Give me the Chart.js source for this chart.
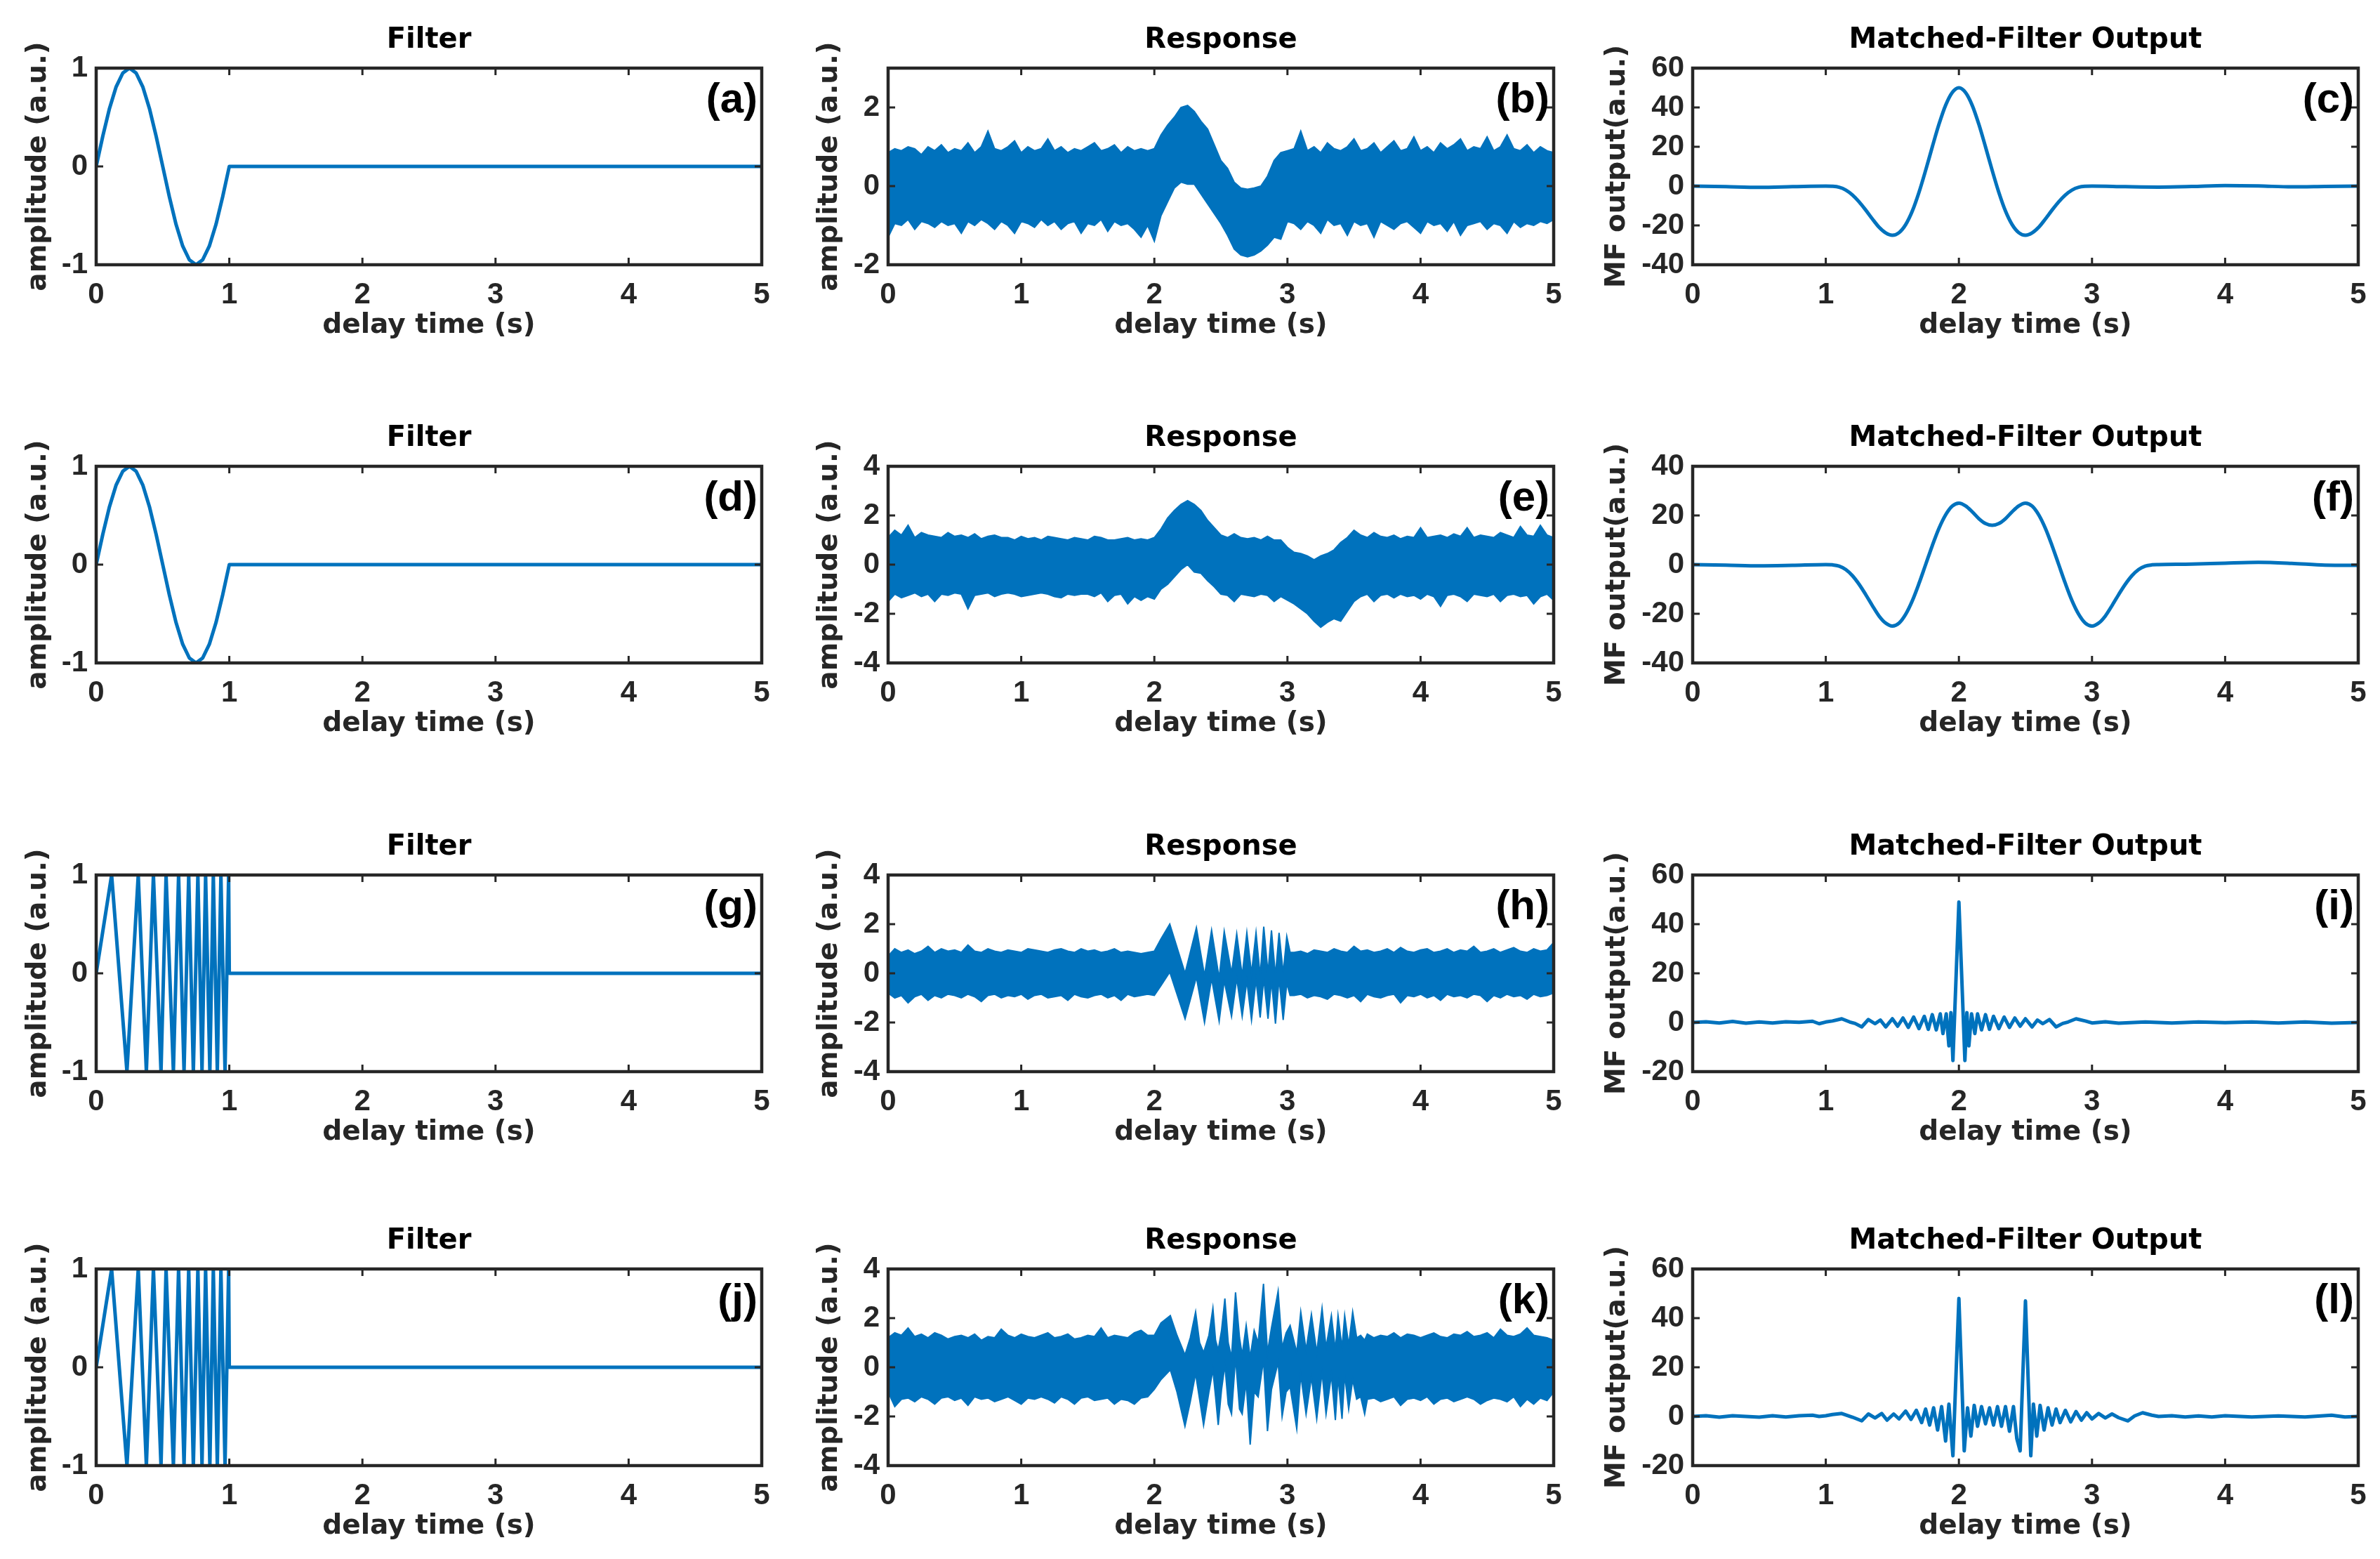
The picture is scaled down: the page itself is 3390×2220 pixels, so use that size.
<!DOCTYPE html>
<html>
<head>
<meta charset="utf-8">
<script src="https://cdn.jsdelivr.net/npm/chart.js@4.4.1/dist/chart.umd.min.js"></script>
<style>
  body { margin: 0; background: #fff; width: 3390px; height: 2220px; position: relative; overflow: hidden; }
  canvas { position: absolute; }
</style>
</head>
<body>
<script>
// ---- axis ticks ----
const xTicks = [0, 1, 2, 3, 4, 5];
const yTicksFilter = [-1, 0, 1];
const yTicksResp1 = [-2, 0, 2];
const yTicksResp = [-4, -2, 0, 2, 4];
const yTicksMF1 = [-40, -20, 0, 20, 40, 60];
const yTicksMF2 = [-40, -20, 0, 20, 40];
const yTicksMF3 = [-20, 0, 20, 40, 60];

// common time grid for the noisy responses
const gridT = [0,0.05,0.1,0.15,0.2,0.25,0.3,0.35,0.4,0.45,
  0.5,0.55,0.6,0.65,0.7,0.75,0.8,0.85,0.9,0.95,
  1,1.05,1.1,1.15,1.2,1.25,1.3,1.35,1.4,1.45,
  1.5,1.55,1.6,1.65,1.7,1.75,1.8,1.85,1.9,1.95,
  2,2.05,2.1,2.15,2.2,2.25,2.3,2.35,2.4,2.45,
  2.5,2.55,2.6,2.65,2.7,2.75,2.8,2.85,2.9,2.95,
  3,3.05,3.1,3.15,3.2,3.25,3.3,3.35,3.4,3.45,
  3.5,3.55,3.6,3.65,3.7,3.75,3.8,3.85,3.9,3.95,
  4,4.05,4.1,4.15,4.2,4.25,4.3,4.35,4.4,4.45,
  4.5,4.55,4.6,4.65,4.7,4.75,4.8,4.85,4.9,4.95,5];

// ---- filter: single sine period ----
const sineT = [0,0.05,0.1,0.15,0.2,0.25,0.3,0.35,0.4,0.45,0.5,0.55,0.6,0.65,0.7,0.75,0.8,0.85,0.9,0.95,1,5];
const sineV = [0,0.31,0.59,0.81,0.95,1,0.95,0.81,0.59,0.31,0,-0.31,-0.59,-0.81,-0.95,-1,-0.95,-0.81,-0.59,-0.31,0,0];

// ---- filter: chirp (extrema) ----
const chirpT = [0,0.116,0.231,0.316,0.377,0.43,0.487,0.525,0.58,0.619,0.66,0.695,0.73,0.764,0.795,0.822,0.854,0.88,0.91,0.937,0.968,0.995,1,5];
const chirpV = [0,1,-1,1,-1,1,-1,1,-1,1,-1,1,-1,1,-1,1,-1,1,-1,1,-1,1,0,0];

// ---- response (b): upper / lower envelope of the noisy trace ----
const bUpper = [0.85,0.95,0.9,1.0,0.95,0.8,1.0,0.9,1.05,0.85,0.95,0.9,1.1,0.85,1.0,1.4,0.95,0.9,1.0,1.15,
  0.85,1.0,0.9,0.95,1.2,0.9,1.0,0.85,0.95,0.9,1.0,1.1,0.9,0.95,1.05,0.85,1.0,0.9,0.95,0.9,
  0.95,1.3,1.55,1.75,2.0,2.05,1.9,1.65,1.45,1.05,0.65,0.45,0.1,-0.05,-0.08,-0.05,0.0,0.25,0.65,0.85,0.9,
  0.95,1.4,0.9,1.0,0.85,1.1,0.95,0.9,1.0,1.2,0.9,0.95,1.1,0.85,1.0,1.15,0.9,0.95,1.25,0.9,
  1.0,0.85,1.1,0.95,1.05,1.2,0.9,1.0,0.95,1.25,0.9,1.0,1.3,0.95,0.9,1.05,0.85,1.0,0.9,0.85];
const bLower = [-1.3,-0.95,-1.0,-0.85,-1.1,-0.9,-0.95,-1.05,-0.9,-1.0,-0.95,-1.2,-0.9,-1.0,-0.85,-0.95,-1.1,-0.9,-1.0,-1.2,
  -0.9,-0.95,-1.05,-0.85,-1.0,-0.9,-1.1,-0.95,-0.9,-1.2,-0.95,-1.0,-0.85,-1.15,-0.9,-1.0,-0.95,-1.1,-1.3,-1.0,
  -1.4,-0.75,-0.4,-0.05,0.1,0.05,0.05,-0.2,-0.45,-0.7,-0.95,-1.25,-1.6,-1.75,-1.8,-1.75,-1.65,-1.5,-1.3,-1.35,-0.9,
  -0.95,-1.1,-0.9,-1.0,-1.2,-0.85,-1.0,-0.95,-1.25,-0.9,-1.0,-0.95,-1.3,-0.9,-1.0,-1.1,-0.95,-0.9,-1.05,-1.2,
  -0.9,-1.0,-0.95,-1.15,-0.9,-1.25,-1.0,-0.95,-0.9,-1.1,-0.95,-1.0,-1.2,-0.9,-1.05,-0.95,-1.0,-0.9,-0.95,-0.85];

// ---- response (e) ----
const eUpper = [1.1,1.4,1.2,1.6,1.1,1.3,1.2,1.15,1.1,1.3,1.15,1.2,1.1,1.25,1.05,1.15,1.2,1.1,1.1,1.0,
  1.15,1.05,1.1,1.0,1.15,1.1,1.05,1.0,1.1,1.05,1.0,1.15,1.1,1.0,1.0,1.05,1.1,1.0,1.05,1.0,
  1.1,1.45,1.9,2.2,2.45,2.6,2.45,2.2,1.8,1.5,1.2,1.1,1.25,1.1,1.05,1.1,1.0,1.15,1.0,1.0,
  0.7,0.5,0.45,0.35,0.2,0.35,0.45,0.6,0.9,1.1,1.4,
  1.2,1.1,1.3,1.15,1.1,1.2,1.05,1.15,1.1,1.5,1.1,1.15,1.2,1.1,1.25,1.15,1.5,1.1,1.2,1.15,
  1.1,1.3,1.2,1.1,1.55,1.2,1.15,1.6,1.2,1.1];
const eLower = [-1.5,-1.2,-1.35,-1.25,-1.15,-1.3,-1.2,-1.5,-1.2,-1.25,-1.15,-1.2,-1.8,-1.25,-1.2,-1.15,-1.3,-1.2,-1.15,-1.2,
  -1.3,-1.25,-1.2,-1.15,-1.2,-1.3,-1.35,-1.2,-1.25,-1.2,-1.2,-1.3,-1.15,-1.5,-1.25,-1.2,-1.6,-1.3,-1.45,-1.3,
  -1.4,-1.0,-0.8,-0.5,-0.2,0.0,-0.3,-0.35,-0.65,-0.9,-1.2,-1.25,-1.5,-1.2,-1.25,-1.3,-1.2,-1.25,-1.5,-1.3,
  -1.45,-1.6,-1.8,-2.0,-2.3,-2.55,-2.35,-2.2,-2.3,-1.9,-1.5,
  -1.3,-1.2,-1.5,-1.25,-1.2,-1.35,-1.2,-1.3,-1.25,-1.4,-1.2,-1.3,-1.7,-1.25,-1.2,-1.3,-1.5,-1.2,-1.25,-1.3,
  -1.2,-1.5,-1.25,-1.2,-1.3,-1.25,-1.6,-1.3,-1.2,-1.45];

// ---- response (h): noise before 2 s, chirp extrema, noise after 3 s ----
const hNoiseUpA = [0.7,1.0,0.85,0.95,0.8,0.9,1.1,0.85,1.0,0.9,0.95,0.85,1.15,0.9,0.85,1.0,0.9,0.85,0.95,0.9,
  0.85,1.0,0.95,0.9,0.85,0.95,1.0,0.9,0.85,1.0,0.9,0.95,0.85,0.9,1.0,0.85,0.9,0.85,0.8,0.85];
const hNoiseLoA = [-0.8,-1.0,-0.9,-1.2,-0.95,-0.85,-1.1,-0.9,-1.0,-0.85,-0.9,-1.0,-0.85,-0.95,-1.15,-0.9,-0.85,-1.0,-0.9,-0.95,
  -0.85,-1.05,-0.9,-0.85,-1.0,-0.95,-0.9,-1.1,-0.85,-0.95,-1.0,-0.9,-0.85,-1.0,-0.9,-1.1,-0.85,-0.95,-0.9,-0.85];
const hChirpT = [2,2.05,2.116,2.231,2.316,2.377,2.43,2.487,2.525,2.58,2.619,2.66,2.695,2.73,2.764,2.795,2.822,2.854,2.88,2.91,2.937,2.968,2.995,3.02];
const hChirpUp = [0.9,1.4,2.0,0.0,1.85,-0.1,1.75,-0.2,1.7,0.0,1.6,-0.1,1.65,0.0,1.65,-0.1,1.9,0.0,1.75,-0.1,1.65,0.0,1.5,0.85];
const hChirpLo = [-0.9,-0.5,0.05,-1.85,-0.15,-2.0,-0.2,-1.95,-0.3,-1.75,-0.2,-1.75,-0.3,-1.9,-0.25,-1.8,-0.2,-1.85,-0.3,-2.05,-0.2,-1.9,-0.4,-0.9];
const hNoiseUpB = [0.85,0.9,0.8,0.95,0.9,0.85,1.0,0.9,0.85,1.1,0.9,0.95,0.85,0.9,1.0,0.85,1.05,0.9,0.85,0.95,
  1.0,0.85,0.9,1.0,0.85,0.95,0.9,1.1,0.85,0.9,1.0,0.85,0.95,1.05,0.9,0.85,1.0,0.9,0.95,1.25];
const hNoiseLoB = [-0.9,-0.85,-1.0,-0.9,-0.95,-1.05,-0.85,-0.9,-1.0,-0.9,-1.15,-0.85,-0.95,-1.0,-0.9,-0.85,-1.2,-0.9,-0.95,-0.85,
  -1.0,-0.9,-1.1,-0.85,-0.95,-0.9,-1.0,-0.85,-0.9,-1.15,-0.9,-1.0,-0.85,-0.95,-0.9,-1.05,-0.85,-0.95,-0.9,-0.8];

// ---- response (k): two overlapping chirps ----
const kNoiseUpA = [1.2,1.4,1.3,1.6,1.25,1.35,1.2,1.4,1.3,1.15,1.25,1.3,1.2,1.35,1.1,1.25,1.2,1.55,1.3,1.2,
  1.35,1.25,1.2,1.3,1.4,1.2,1.25,1.35,1.15,1.2,1.3,1.25,1.6,1.2,1.3,1.25,1.2,1.4,1.5,1.3];
const kNoiseLoA = [-1.0,-1.6,-1.3,-1.25,-1.4,-1.2,-1.3,-1.5,-1.25,-1.2,-1.35,-1.25,-1.55,-1.2,-1.3,-1.25,-1.4,-1.3,-1.2,-1.35,
  -1.5,-1.25,-1.3,-1.2,-1.3,-1.45,-1.2,-1.3,-1.5,-1.25,-1.2,-1.35,-1.3,-1.25,-1.5,-1.3,-1.35,-1.5,-1.25,-1.2];
const kChirpT = [2,2.05,2.12,2.17,2.23,2.27,2.31,2.34,2.37,2.41,2.44,2.46,2.48,2.505,2.53,2.555,2.58,2.61,2.64,2.66,
  2.69,2.72,2.75,2.78,2.82,2.85,2.88,2.93,2.96,2.99,3.02,3.07,3.1,3.14,3.18,3.22,3.26,3.29,3.33,3.36,
  3.38,3.41,3.43,3.46,3.49,3.52,3.55,3.58];
const kChirpUp = [1.3,1.8,2.1,1.3,0.5,1.2,2.25,1.0,0.6,1.3,2.4,1.1,0.7,1.5,2.8,1.0,0.4,3.05,1.2,0.5,
  1.7,0.4,1.5,1.0,3.4,0.6,1.6,3.1,0.8,1.4,1.7,0.6,2.25,0.7,2.15,0.6,2.4,0.8,2.1,0.7,
  2.1,0.8,2.1,0.9,2.25,1.2,1.3,1.1];
const kChirpLo = [-0.9,-0.5,-0.1,-1.0,-2.4,-1.4,-0.25,-1.3,-2.35,-1.0,-0.1,-1.2,-2.35,-0.9,0.1,-1.5,-1.9,0.4,-1.7,-1.9,
  -0.6,-3.15,-1.0,-1.2,0.3,-2.6,-0.9,0.2,-2.0,-1.0,-0.8,-2.5,-0.3,-1.9,-0.4,-2.1,-0.2,-1.9,-0.3,-2.15,
  -0.4,-2.1,-0.3,-1.7,-0.5,-1.3,-1.2,-1.9];
const kNoiseUpB = [1.35,1.2,1.3,1.25,1.4,1.2,1.35,1.3,1.2,1.3,1.4,1.25,1.2,1.35,1.3,1.45,1.25,1.3,1.4,1.2,
  1.55,1.3,1.25,1.35,1.6,1.3,1.25,1.2,1.1];
const kNoiseLoB = [-1.3,-1.25,-1.4,-1.3,-1.2,-1.55,-1.3,-1.25,-1.35,-1.2,-1.5,-1.3,-1.25,-1.4,-1.3,-1.2,-1.3,-1.5,-1.35,-1.25,
  -1.3,-1.4,-1.2,-1.6,-1.3,-1.5,-1.25,-1.35,-1.0];

// ---- matched-filter outputs ----
const cT = [0,0.25,0.5,0.75,1,1.05,1.1,1.15,1.2,1.25,1.3,1.35,1.4,1.45,1.5,1.55,1.6,1.65,1.7,1.75,1.8,1.85,1.9,1.95,
  2,2.05,2.1,2.15,2.2,2.25,2.3,2.35,2.4,2.45,2.5,2.55,2.6,2.65,2.7,2.75,2.8,2.85,2.9,2.95,3,
  3.25,3.5,3.75,4,4.25,4.5,4.75,5];
const cV = [0,-0.3,-0.6,-0.3,0,-0.1,-0.6,-2.0,-4.5,-8.0,-12.2,-16.7,-20.9,-23.8,-25,-23.7,-19.6,-12.7,-3.2,8.0,19.9,31.4,41.1,47.6,
  50,47.6,41.1,31.4,19.9,8.0,-3.2,-12.7,-19.6,-23.7,-25,-23.8,-20.9,-16.7,-12.2,-8.0,-4.5,-2.0,-0.6,-0.1,0,
  -0.3,-0.5,-0.2,0.3,0.1,-0.4,-0.2,0];

const fT = [0,0.25,0.5,0.75,1,1.05,1.1,1.15,1.2,1.25,1.3,1.35,1.4,1.45,1.5,1.55,1.6,1.65,1.7,1.75,1.8,1.85,1.9,1.95,
  2,2.05,2.1,2.15,2.2,2.25,2.3,2.35,2.4,2.45,2.5,2.55,2.6,2.65,2.7,2.75,2.8,2.85,2.9,2.95,
  3,3.05,3.1,3.15,3.2,3.25,3.3,3.35,3.4,3.45,3.5,3.75,4,4.25,4.5,4.75,5];
const fV = [0,-0.2,-0.5,-0.3,0,-0.1,-0.6,-2.0,-4.5,-8.0,-12.2,-16.7,-20.9,-23.8,-25,-23.8,-20.2,-14.7,-7.7,0,7.7,14.7,20.2,23.8,
  25,23.9,21.5,18.7,16.7,16,16.7,18.7,21.5,23.9,25,23.8,20.2,14.7,7.7,0,-7.7,-14.7,-20.2,-23.8,
  -25,-23.8,-20.9,-16.7,-12.2,-8.0,-4.5,-2.0,-0.6,-0.1,0,0.2,0.6,0.9,0.5,-0.2,-0.3];

const iT = [0,0.1,0.2,0.3,0.4,0.5,0.6,0.7,0.8,0.9,0.95,1,1.05,1.12,1.18,1.22,1.27,1.32,1.37,1.41,1.45,1.5,1.54,1.58,1.62,1.66,1.7,1.74,1.77,1.8,1.83,1.86,1.88,1.905,1.925,1.94,1.955,
  2,2.045,2.06,2.075,2.095,2.12,2.14,2.17,2.2,2.23,2.26,2.3,2.34,2.38,2.42,2.46,2.5,2.55,2.59,2.63,2.68,2.73,2.78,2.82,2.88,2.95,
  3,3.1,3.2,3.4,3.6,3.8,4,4.2,4.4,4.6,4.8,5];
const iV = [0,0.3,-0.2,0.4,-0.3,0.2,-0.2,0.3,0.1,0.5,-0.5,0.2,0.6,1.5,0.2,-0.4,-1.8,1.2,-0.5,1.0,-1.8,1.5,-1.5,1.8,-2.0,2.2,-2.5,2.5,-2.8,3.2,-3.0,3.5,-4.5,3.5,-9.5,4.0,-15.5,
  49,-15.5,4.0,-9.5,3.5,-4.5,3.5,-3.0,3.2,-2.8,2.5,-2.5,2.2,-2.0,1.8,-1.5,1.5,-1.8,1.0,-0.5,1.2,-1.8,-0.4,0.2,1.5,0.6,
  -0.2,0.3,-0.3,0.2,-0.2,0.2,-0.1,0.2,-0.2,0.2,-0.3,0];

const lT = [0,0.1,0.2,0.3,0.4,0.5,0.6,0.7,0.8,0.9,0.95,1,1.05,1.12,1.2,1.27,1.32,1.37,1.42,1.46,1.51,1.55,1.6,1.64,1.68,1.72,1.75,1.78,1.81,1.84,1.87,1.9,1.925,1.955,
  2,2.04,2.065,2.09,2.115,2.14,2.17,2.2,2.23,2.26,2.29,2.32,2.35,2.38,2.41,2.435,2.46,
  2.5,2.54,2.56,2.585,2.61,2.64,2.67,2.7,2.73,2.76,2.8,2.84,2.88,2.92,2.96,3,3.05,3.1,3.15,3.2,3.27,3.32,3.38,3.45,
  3.5,3.6,3.7,3.8,3.9,4,4.2,4.4,4.6,4.8,4.9,5];
const lV = [0,0.3,-0.3,0.3,0,-0.3,0.3,-0.2,0.3,0.5,0,0.3,0.8,1.2,-0.3,-1.8,1.0,-0.6,1.2,-1.5,1.0,-1.0,2.2,-1.2,2.5,-2.5,3.0,-3.5,3.5,-5.5,4.0,-10,5,-16,
  48,-14,3.5,-8,4.5,-4,4,-3,3.5,-3.5,4.0,-4,4,-6,4,-9,-14,
  47,-16,5,-8,4.5,-5.5,3.5,-3.5,3.0,-2.5,2.5,-2.2,2.0,-1.5,1.5,-1.0,1.2,-0.6,1.0,-0.5,-1.8,0.2,1.5,0.5,
  0,0.3,-0.2,0.2,-0.2,0.3,-0.2,0.2,-0.2,0.5,-0.2,0];

// ---- drawing ----
const BLUE = '#0072BD';
const TXT = '#262626';
Chart.defaults.font.family = '"Liberation Sans", Arial, sans-serif';

function pts(t, v) { return t.map((x, i) => ({ x: x, y: v[i] })); }
function lineSet(t, v, smooth) {
  return { data: pts(t, v), borderColor: BLUE, borderWidth: 5, pointRadius: 0, fill: false,
    cubicInterpolationMode: smooth ? 'monotone' : 'default', borderJoinStyle: 'round', borderCapStyle: 'round' };
}
function bandSets(t, up, lo) {
  return [
    { data: pts(t, up), borderColor: BLUE, borderWidth: 2, pointRadius: 0, fill: false },
    { data: pts(t, lo), borderColor: BLUE, borderWidth: 2, pointRadius: 0, fill: '-1', backgroundColor: BLUE }
  ];
}

const hT = gridT.slice(0, 40).concat(hChirpT, gridT.slice(61));
const kT = gridT.slice(0, 40).concat(kChirpT, gridT.slice(72));

// box, inward tick marks and panel letter
const panelMarks = {
  id: 'panelMarks',
  afterDatasetsDraw(chart, args, opts) {
    const ctx = chart.ctx, a = chart.chartArea;
    const sx = chart.scales.x, sy = chart.scales.y;
    ctx.save();
    ctx.strokeStyle = TXT;
    ctx.lineWidth = 3;
    ctx.beginPath();
    sx.ticks.forEach(t => {
      const p = sx.getPixelForValue(t.value);
      ctx.moveTo(p, a.bottom); ctx.lineTo(p, a.bottom - 10);
      ctx.moveTo(p, a.top); ctx.lineTo(p, a.top + 10);
    });
    sy.ticks.forEach(t => {
      const p = sy.getPixelForValue(t.value);
      ctx.moveTo(a.left, p); ctx.lineTo(a.left + 10, p);
      ctx.moveTo(a.right, p); ctx.lineTo(a.right - 10, p);
    });
    ctx.stroke();
    ctx.lineWidth = 4.5;
    ctx.strokeRect(a.left, a.top, a.right - a.left, a.bottom - a.top);
    ctx.fillStyle = '#000';
    ctx.font = 'bold 60px "Liberation Sans", Arial, sans-serif';
    ctx.textAlign = 'right';
    ctx.textBaseline = 'middle';
    ctx.fillText(opts.text, a.right - 6, a.top + 46);
    ctx.restore();
  }
};

const colLeft = [137, 1265, 2411];
const rowTop = [97, 664, 1246, 1807];
const yTitlePad = [31, 30, 6];

const panels = [
  { r: 0, c: 0, title: 'Filter', yTitle: 'amplitude (a.u.)', tag: '(a)', yMin: -1, yMax: 1, yTicks: yTicksFilter, sets: [lineSet(sineT, sineV, false)] },
  { r: 0, c: 1, title: 'Response', yTitle: 'amplitude (a.u.)', tag: '(b)', yMin: -2, yMax: 3, yTicks: yTicksResp1, sets: bandSets(gridT, bUpper, bLower) },
  { r: 0, c: 2, title: 'Matched-Filter Output', yTitle: 'MF output(a.u.)', tag: '(c)', yMin: -40, yMax: 60, yTicks: yTicksMF1, sets: [lineSet(cT, cV, true)] },
  { r: 1, c: 0, title: 'Filter', yTitle: 'amplitude (a.u.)', tag: '(d)', yMin: -1, yMax: 1, yTicks: yTicksFilter, sets: [lineSet(sineT, sineV, false)] },
  { r: 1, c: 1, title: 'Response', yTitle: 'amplitude (a.u.)', tag: '(e)', yMin: -4, yMax: 4, yTicks: yTicksResp, sets: bandSets(gridT, eUpper, eLower) },
  { r: 1, c: 2, title: 'Matched-Filter Output', yTitle: 'MF output(a.u.)', tag: '(f)', yMin: -40, yMax: 40, yTicks: yTicksMF2, sets: [lineSet(fT, fV, true)] },
  { r: 2, c: 0, title: 'Filter', yTitle: 'amplitude (a.u.)', tag: '(g)', yMin: -1, yMax: 1, yTicks: yTicksFilter, sets: [lineSet(chirpT, chirpV, false)] },
  { r: 2, c: 1, title: 'Response', yTitle: 'amplitude (a.u.)', tag: '(h)', yMin: -4, yMax: 4, yTicks: yTicksResp,
    sets: bandSets(hT, hNoiseUpA.concat(hChirpUp, hNoiseUpB), hNoiseLoA.concat(hChirpLo, hNoiseLoB)) },
  { r: 2, c: 2, title: 'Matched-Filter Output', yTitle: 'MF output(a.u.)', tag: '(i)', yMin: -20, yMax: 60, yTicks: yTicksMF3, sets: [lineSet(iT, iV, false)] },
  { r: 3, c: 0, title: 'Filter', yTitle: 'amplitude (a.u.)', tag: '(j)', yMin: -1, yMax: 1, yTicks: yTicksFilter, sets: [lineSet(chirpT, chirpV, false)] },
  { r: 3, c: 1, title: 'Response', yTitle: 'amplitude (a.u.)', tag: '(k)', yMin: -4, yMax: 4, yTicks: yTicksResp,
    sets: bandSets(kT, kNoiseUpA.concat(kChirpUp, kNoiseUpB), kNoiseLoA.concat(kChirpLo, kNoiseLoB)) },
  { r: 3, c: 2, title: 'Matched-Filter Output', yTitle: 'MF output(a.u.)', tag: '(l)', yMin: -20, yMax: 60, yTicks: yTicksMF3, sets: [lineSet(lT, lV, false)] }
];

const labelFont = { family: '"DejaVu Sans", sans-serif', size: 39, weight: 'bold' };
const tickFont = { family: '"Liberation Sans", Arial, sans-serif', size: 42, weight: 'bold' };

panels.forEach(p => {
  const cv = document.createElement('canvas');
  cv.width = 137 + 948 + 20;
  cv.height = 97 + 280 + 120;
  cv.style.left = (colLeft[p.c] - 137) + 'px';
  cv.style.top = (rowTop[p.r] - 97) + 'px';
  cv.style.width = cv.width + 'px';
  cv.style.height = cv.height + 'px';
  document.body.appendChild(cv);

  new Chart(cv, {
    type: 'line',
    data: { datasets: p.sets },
    plugins: [panelMarks],
    options: {
      responsive: false,
      animation: false,
      devicePixelRatio: 1,
      layout: { padding: { left: 0, right: 20, top: 0, bottom: 0 } },
      plugins: {
        legend: { display: false },
        tooltip: { enabled: false },
        title: { display: true, fullSize: false, text: p.title, color: '#000',
          font: { family: '"DejaVu Sans", sans-serif', size: 40, weight: 'bold' },
          padding: { top: 34, bottom: 15 } },
        panelMarks: { text: p.tag }
      },
      scales: {
        x: {
          type: 'linear', min: 0, max: 5,
          afterBuildTicks: s => { s.ticks = xTicks.map(v => ({ value: v })); },
          afterFit: s => { s.height = 120; s.paddingLeft = 0; s.paddingRight = 0; },
          grid: { display: false, drawTicks: false },
          border: { display: false },
          ticks: { font: tickFont, color: TXT, padding: 18, maxRotation: 0, callback: v => String(v) },
          title: { display: true, text: 'delay time (s)', color: TXT, font: labelFont, padding: { top: 0, bottom: 10 } }
        },
        y: {
          type: 'linear', min: p.yMin, max: p.yMax,
          afterBuildTicks: s => { s.ticks = p.yTicks.map(v => ({ value: v })); },
          afterFit: s => { s.width = 137; s.paddingTop = 0; s.paddingBottom = 0; },
          grid: { display: false, drawTicks: false },
          border: { display: false },
          ticks: { font: tickFont, color: TXT, padding: 12, callback: v => String(v) },
          title: { display: true, text: p.yTitle, color: TXT, font: labelFont, padding: { top: yTitlePad[p.c], bottom: 0 } }
        }
      }
    }
  });
});
</script>
</body>
</html>
